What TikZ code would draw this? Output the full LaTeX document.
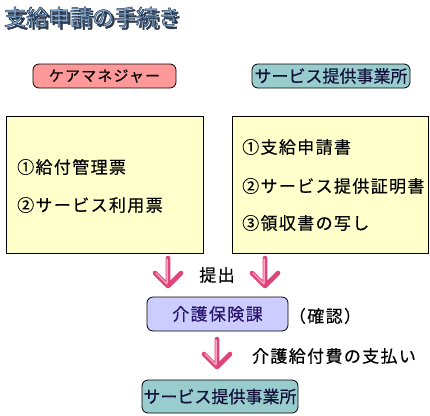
\documentclass[tikz,border=0pt]{standalone}
\usepackage{fontspec}
\setmainfont{Noto Sans CJK JP}[FakeBold=0.4]
\newfontfamily\jpfont{Noto Sans CJK JP}[LetterSpace=8, FakeBold=0.4]
\newfontfamily\titlejp{Noto Sans CJK JP}[FakeBold=2.2]
\definecolor{pinkbox}{HTML}{FF9999}
\definecolor{tealbox}{HTML}{99CCCC}
\definecolor{yellowbox}{HTML}{FFFFCC}
\definecolor{lavbox}{HTML}{CCCCFF}
\definecolor{arrowdark}{HTML}{E0457A}
\definecolor{arrowlight}{HTML}{FFA8C6}
\definecolor{titlefill}{HTML}{8DB6D6}
\definecolor{titleshadow}{HTML}{2E3A4C}
\definecolor{navytext}{HTML}{10103A}
\definecolor{purpletext}{HTML}{2A1670}
\newcommand{\outlinedtext}[1]{%
  \special{pdf:literal direct 2 Tr 1.3 w 0.11 0.2 0.33 RG}#1\special{pdf:literal direct 0 Tr}}
\tikzset{
  rbox/.style={draw=black, line width=0.8pt, rounded corners=6pt, inner sep=0pt},
  ybox/.style={draw=black, line width=0.8pt, fill=yellowbox},
  item/.style={anchor=west, inner sep=0pt, font=\jpfont\fontsize{17}{20}\selectfont, text=black},
  lbl/.style={inner sep=0pt, font=\jpfont\fontsize{17}{20}\selectfont, text=black},
  titletxt/.style={inner sep=0pt, font=\titlejp\fontsize{22}{24}\selectfont},
  pics/pinkarrow/.style={code={
    \draw[line width=4.6pt, arrowdark, line cap=round, line join=round]
      (0,0) -- (0,28) (-13,15) -- (0,28) -- (13,15);
    \draw[line width=1.3pt, arrowlight, line cap=round, line join=round]
      (-0.9,1) -- (-0.9,25) (-12,15) -- (-1,26);
  }}
}
\begin{document}
\begin{tikzpicture}[x=1pt, y=-1pt]
\useasboundingbox (0,0) rectangle (430,415);
% title
\node[titletxt, text=titleshadow] (titleshadow) at (94.5,19.5) {支給申請の手続き};
\node[titletxt, text=titlefill] (title) at (92,17) {\outlinedtext{支給申請の手続き}};

% top boxes
\node[rbox, fill=pinkbox, minimum width=143pt, minimum height=24pt,
      font=\jpfont\fontsize{15}{18}\selectfont, text=black] (cm) at (104.5,76) {ケアマネジャー};
\node[rbox, fill=tealbox, minimum width=158pt, minimum height=24pt,
      font=\fontsize{17}{20}\selectfont, text=navytext] (sj1) at (331,76) {サービス提供事業所};

% yellow boxes
\node[ybox, minimum width=197pt, minimum height=137pt, inner sep=0pt] (yl) at (104.5,184.5) {};
\node[ybox, minimum width=196pt, minimum height=137pt, inner sep=0pt] (yr) at (330,184.5) {};
\node[item] (l1) at (17,167) {①給付管理票};
\node[item] (l2) at (17,205) {②サービス利用票};
\node[item] (r1) at (242,147) {①支給申請書};
\node[item] (r2) at (242,186) {②サービス提供証明書};
\node[item] (r3) at (242,223) {③領収書の写し};

% arrows and submit label
\coordinate (a1) at (168,258);
\coordinate (a2) at (265,258);
\pic at (a1) {pinkarrow};
\pic at (a2) {pinkarrow};
\node[lbl] (teishutsu) at (217,275) {提出};

% insurance section
\node[rbox, fill=lavbox, minimum width=141pt, minimum height=34pt,
      font=\jpfont\fontsize{17}{20}\selectfont, text=purpletext] (kh) at (217.5,314) {介護保険課};
\node[lbl] (kakunin) at (325,316) {（確認）};

\coordinate (a3) at (217,339);
\pic at (a3) {pinkarrow};
\node[lbl] (shiharai) at (334,356) {介護給付費の支払い};

\node[rbox, fill=tealbox, minimum width=156pt, minimum height=33pt,
      font=\fontsize{17}{20}\selectfont, text=navytext] (sj2) at (220,396.5) {サービス提供事業所};
\end{tikzpicture}
\end{document}
